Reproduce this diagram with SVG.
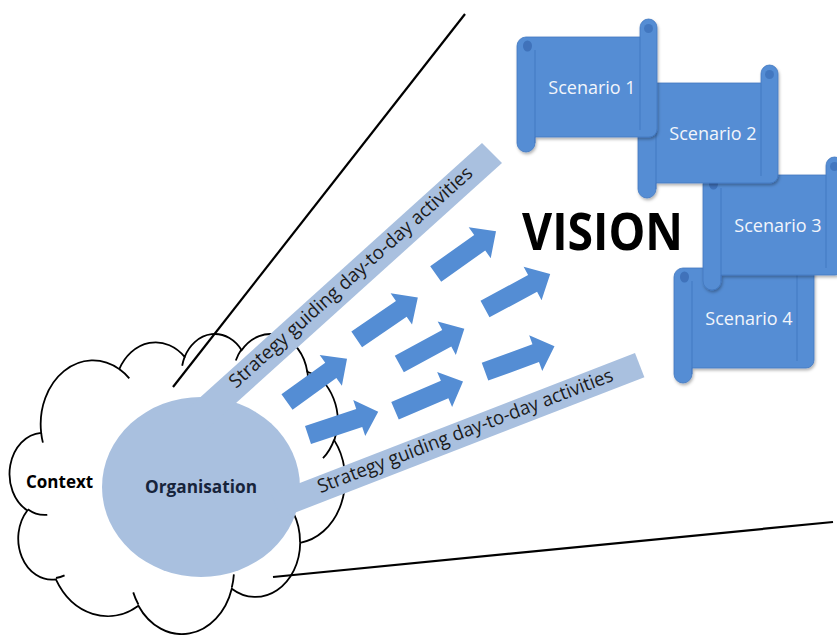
<svg xmlns="http://www.w3.org/2000/svg" xmlns:xlink="http://www.w3.org/1999/xlink" width="837" height="635" viewBox="0 0 837 635">
<style>
.cl{fill:#fff;stroke:#000;stroke-width:1.8;vector-effect:non-scaling-stroke}
.ci{fill:none;stroke:#000;stroke-width:1.8;vector-effect:non-scaling-stroke}
.lb{fill:#A9C0DF}
.ln{stroke:#000;stroke-width:2.2;fill:none}
.ar{fill:#548DD4}
.scr{fill:#548DD4;stroke:#4478C0;stroke-width:0.8}
.scl{fill:none;stroke:#3F72BA;stroke-width:1;stroke-opacity:0.7}
.scd{fill:#3F72BA}
.scn{font-family:"Open Sans","Liberation Sans",sans-serif;font-size:18px;fill:#F2F5FB;text-anchor:middle}
.bt{font-family:"Open Sans","Liberation Sans",sans-serif;font-size:19px;fill:#1b1b1b}
.bold{font-family:"Open Sans","Liberation Sans",sans-serif;font-weight:bold;font-size:17px}
</style>
<defs>
<filter id="sh" x="-10%" y="-10%" width="125%" height="125%">
<feDropShadow dx="1" dy="2" stdDeviation="1.5" flood-color="#000" flood-opacity="0.3"/>
</filter>
<path id="arr" d="M0,-9.5 H54 V-19 L74,0 L54,19 V9.5 H0 Z"/>
<g id="scroll">
<path class="scr" d="M517,46 A9,9 0 0 1 526,37 H640 V27.5 A8.5,8.5 0 0 1 657,27.5 V129 A8,8 0 0 1 649,137 H535 V143 A9,9 0 0 1 517,143 Z"/>
<path class="scl" d="M535,50 V143 M640,37 V130"/>
<ellipse class="scd" cx="527.5" cy="46" rx="4.5" ry="5.5"/>
<circle class="scd" cx="648.5" cy="28.5" r="4.5" opacity="0.8"/>
</g>
</defs>
<rect width="837" height="635" fill="#fff"/>
<g id="context">
<g transform="translate(11,333) scale(0.0077315,0.0069444)">
<path class="cl" d="M3900,14370 A6753,9190 0 0 1 14004,5202 A5333,7267 0 0 1 22456,3434 A4365,5945 0 0 1 29833,2482 A4857,6595 0 0 1 38317,5579 A5333,7273 0 0 1 41817,15463 A6775,9220 0 0 1 37403,30206 A5785,7867 0 0 1 28555,36817 A6752,9215 0 0 1 16480,39269 A7720,10543 0 0 1 5804,35474 A4360,5918 0 0 1 2112,25553 A4345,5945 0 0 1 3900,14370 Z"/>
<path class="ci" d="M4693,26177 A4345,5945 0 0 1 2160,25380 M6928,34899 A4360,5918 0 0 1 5819,35281 M16478,39090 A6752,9215 0 0 1 15809,37348 M28827,34751 A6752,9215 0 0 1 28560,36660 M34129,22954 A5785,7867 0 0 1 37381,30090 M41798,15354 A5333,7273 0 0 1 40351,18030 M38324,5426 A4857,6595 0 0 1 38401,6690 M29078,3952 A4857,6595 0 0 1 29821,2338 M22141,4720 A4365,5945 0 0 1 22500,3330 M14000,5192 A6753,9190 0 0 1 15301,6542 M4127,15789 A6753,9190 0 0 1 3901,14371"/>
</g>
<text class="bold" x="26" y="488" fill="#000">Context</text>
</g>
<g id="organisation">
<ellipse class="lb" cx="201" cy="487" rx="99" ry="90"/>
<text class="bold" x="145" y="493" fill="#17243B" font-size="18" textLength="112" lengthAdjust="spacingAndGlyphs">Organisation</text>
</g>
<g id="strategy-upper">
<polygon class="lb" points="482,143 502,163 205,431 185,411"/>
<text class="bt" transform="translate(236,389) rotate(-42)" textLength="320" lengthAdjust="spacingAndGlyphs">Strategy guiding day-to-day activities</text>
</g>
<g id="strategy-lower">
<polygon class="lb" points="635,353 644.4,377.2 280.8,518.2 271.4,494"/>
<text class="bt" transform="translate(320.4,493.2) rotate(-21)" textLength="315" lengthAdjust="spacingAndGlyphs">Strategy guiding day-to-day activities</text>
</g>
<g id="connectors">
<line class="ln" x1="465" y1="14" x2="173" y2="387"/>
<line class="ln" x1="273" y1="577" x2="833" y2="522" stroke-width="2.4"/>
<g class="ar">
<use href="#arr" transform="translate(287,402) rotate(-35.8)"/>
<use href="#arr" transform="translate(308,435) rotate(-18.4)"/>
<use href="#arr" transform="translate(356.7,339.3) rotate(-34.3)"/>
<use href="#arr" transform="translate(399.3,364) rotate(-28.5)"/>
<use href="#arr" transform="translate(395,410.7) rotate(-23.2)"/>
<use href="#arr" transform="translate(435.7,274) rotate(-35.4)"/>
<use href="#arr" transform="translate(485,309) rotate(-28.2)"/>
<use href="#arr" transform="translate(485,371.7) rotate(-20.1)"/>
</g>
</g>
<g id="scenario-4">
<use href="#scroll" transform="translate(157,231)" filter="url(#sh)"/>
<text class="scn" x="749" y="325">Scenario 4</text>
</g>
<g id="scenario-3">
<use href="#scroll" transform="translate(186,138)" filter="url(#sh)"/>
<text class="scn" x="778" y="232">Scenario 3</text>
</g>
<g id="scenario-2">
<use href="#scroll" transform="translate(121,46)" filter="url(#sh)"/>
<text class="scn" x="713" y="140">Scenario 2</text>
</g>
<g id="scenario-1">
<use href="#scroll" filter="url(#sh)"/>
<text class="scn" x="592" y="94">Scenario 1</text>
</g>
<g id="vision">
<text x="522" y="250" font-family="'Open Sans','Liberation Sans',sans-serif" font-weight="bold" font-size="52" fill="#000" textLength="161" lengthAdjust="spacingAndGlyphs">VISION</text>
</g>
</svg>
